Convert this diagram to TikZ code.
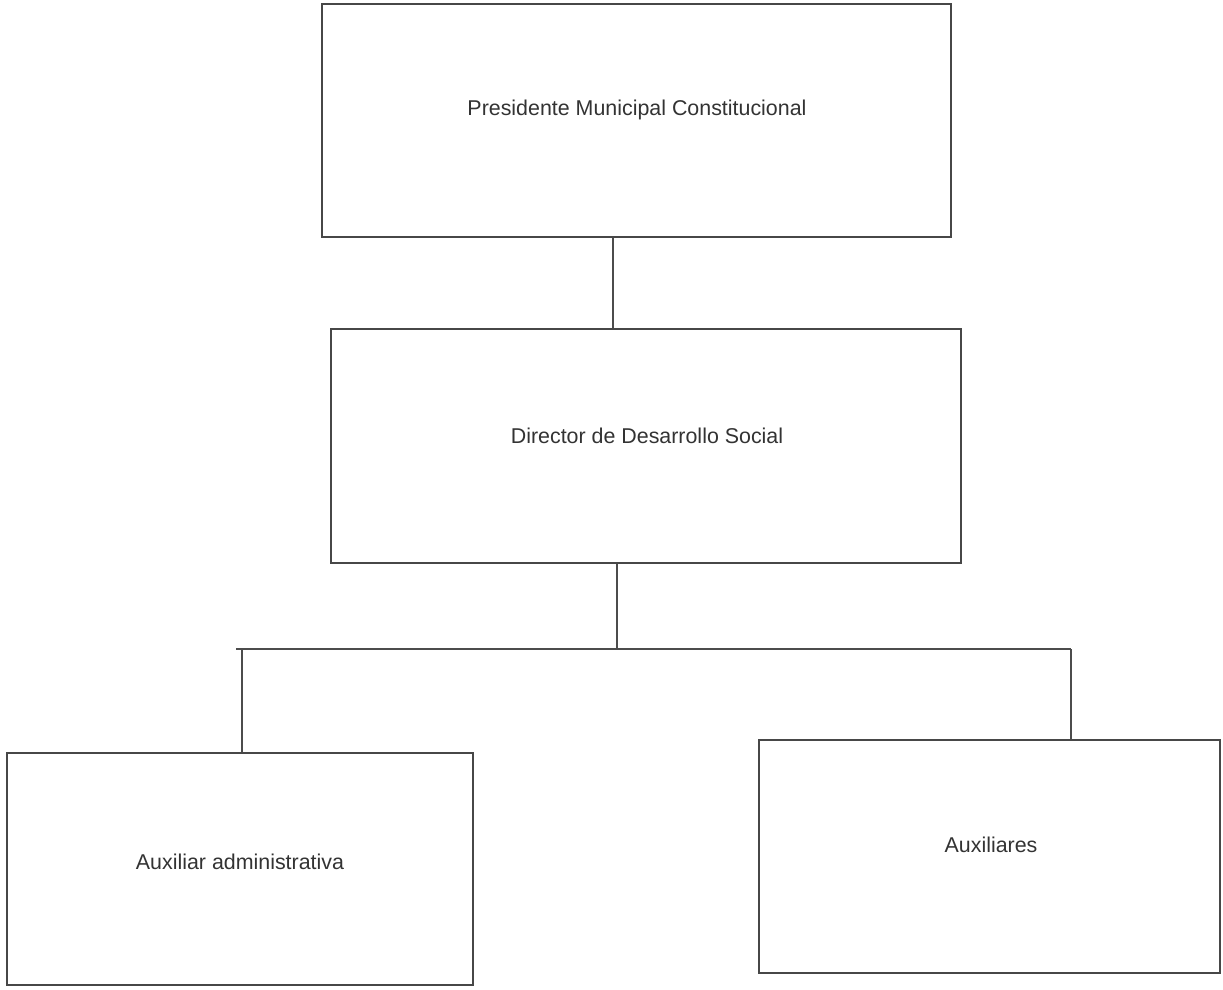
\documentclass[tikz,border=0pt]{standalone}
\usepackage{fontspec}
\setmainfont{Liberation Sans}
\begin{document}
\begin{tikzpicture}[x=1pt,y=-1pt,
  orgbox/.style={draw=black!72,line width=1.7pt,rectangle,inner sep=0pt},
  orglabel/.style={text=black!80,font=\fontsize{21.4}{25}\selectfont,inner sep=0pt},
  link/.style={draw=black!70,line width=1.4pt}]
\useasboundingbox[fill=white] (0,0) rectangle (1223,989);

% boxes
\node[orgbox,minimum width=629pt,minimum height=233pt] (pres) at (636.5,120.5) {};
\node[orgbox,minimum width=630pt,minimum height=234pt] (dir)  at (646,446) {};
\node[orgbox,minimum width=466pt,minimum height=232pt] (aux1) at (240,869) {};
\node[orgbox,minimum width=461pt,minimum height=233pt] (aux2) at (989.5,856.5) {};

% labels
\node[orglabel] (presT) at (637,110) {Presidente Municipal Constitucional};
\node[orglabel] (dirT)  at (647,436) {Director de Desarrollo Social};
\node[orglabel] (aux1T) at (240,862) {Auxiliar administrativa};
\node[orglabel] (aux2T) at (991,845) {Auxiliares};

% connector positions
\coordinate (xa) at (613,0);
\coordinate (xb) at (617,0);
\coordinate (bar) at (0,649);
\coordinate (barL) at (236,649);
\coordinate (xl) at (242,0);
\coordinate (xr) at (1071,0);

% connectors
\draw[link] (pres.south -| xa) -- (dir.north -| xa);
\draw[link] (dir.south -| xb) -- (bar -| xb);
\draw[link] (barL) -- (bar -| xr);
\draw[link] (bar -| xl) -- (aux1.north -| xl);
\draw[link] (bar -| xr) -- (aux2.north -| xr);
\end{tikzpicture}
\end{document}
